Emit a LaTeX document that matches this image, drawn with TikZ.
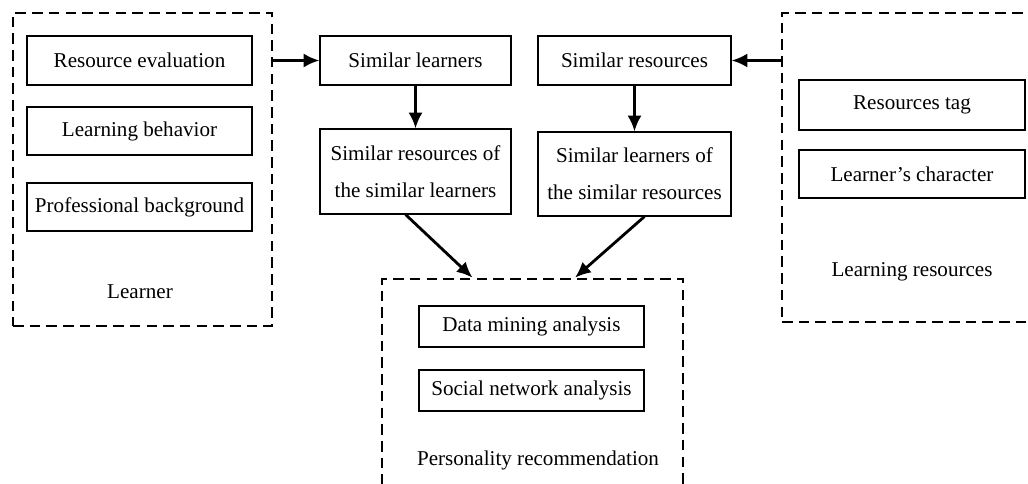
\documentclass[tikz,border=0pt]{standalone}
\usepackage{fontspec}
\setmainfont{Liberation Serif}
\usetikzlibrary{arrows.meta}
\tikzset{>={Latex[length=9pt, width=8pt]}}
\tikzset{
	box/.style={draw, line width=.6pt, inner sep=0pt, align=center, font=\fontsize{12}{21}\selectfont},
	group/.style={draw, line width=1.5pt, dash pattern=on 6pt off 3.5pt, inner sep=0pt},
	grptitle/.style={font=\fontsize{12}{14}\selectfont},
	flow/.style={line width=1.6pt, ->}
}

\begin{document}
\begin{tikzpicture}
	\useasboundingbox (0, 0) rectangle (20.56, -9.68);
	\clip (0, 0) rectangle (20.56, -9.68);
	% learner side
	\node[group, minimum width=5.18cm, minimum height=6.26cm](lrnGrp)at(2.85, -3.39){};
	\node[box, minimum width=4.5cm, minimum height=.98cm](resEval)at(2.79, -1.21){Resource evaluation};
	\node[box, minimum width=4.5cm, minimum height=.96cm](lrnBeh)at(2.79, -2.62){Learning behavior};
	\node[box, minimum width=4.5cm, minimum height=.96cm](proBack)at(2.79, -4.14){Professional background};
	\node[grptitle](lrnTitle)at(2.8, -5.84){Learner};
	% resource side
	\node[group, minimum width=5.16cm, minimum height=6.18cm](resGrp)at(18.22, -3.35){};
	\node[box, minimum width=4.52cm, minimum height=1cm](resTag)at(18.24, -2.1){Resources tag};
	\node[box, minimum width=4.52cm, minimum height=.96cm](lrnChar)at(18.24, -3.48){Learner's character};
	\node[grptitle](resTitle)at(18.24, -5.44){Learning resources};
	% middle
	\node[box, minimum width=3.82cm, minimum height=.98cm](simLrn)at(8.31, -1.21){Similar learners};
	\node[box, minimum width=3.86cm, minimum height=.98cm](simRes)at(12.69, -1.21){Similar resources};
	\node[box, minimum width=3.82cm, minimum height=1.7cm](simResOfLrn)at(8.31, -3.43){Similar resources of\\the similar learners};
	\node[box, minimum width=3.86cm, minimum height=1.68cm](simLrnOfRes)at(12.69, -3.48){Similar learners of\\the similar resources};
	% recommendation
	\node[group, minimum width=6.02cm, minimum height=4.42cm](recGrp)at(10.65, -7.79){};
	\node[box, minimum width=4.5cm, minimum height=.82cm](dataMin)at(10.63, -6.53){Data mining analysis};
	\node[box, minimum width=4.5cm, minimum height=.82cm](socNet)at(10.63, -7.81){Social network analysis};
	\node[grptitle](recTitle)at(10.76, -9.2){Personality recommendation};

	\draw[flow](lrnGrp.east |- simLrn.west)--(simLrn.west);
	\draw[flow](resGrp.west |- simRes.east)--(simRes.east);
	\draw[flow](simLrn)--(simResOfLrn);
	\draw[flow](simRes)--(simLrnOfRes);
	\draw[flow]([xshift=-.2cm]simResOfLrn.south)--([xshift=-1.2cm]recGrp.north);
	\draw[flow]([xshift=.2cm]simLrnOfRes.south)--([xshift=.85cm]recGrp.north);
\end{tikzpicture}
\end{document}
